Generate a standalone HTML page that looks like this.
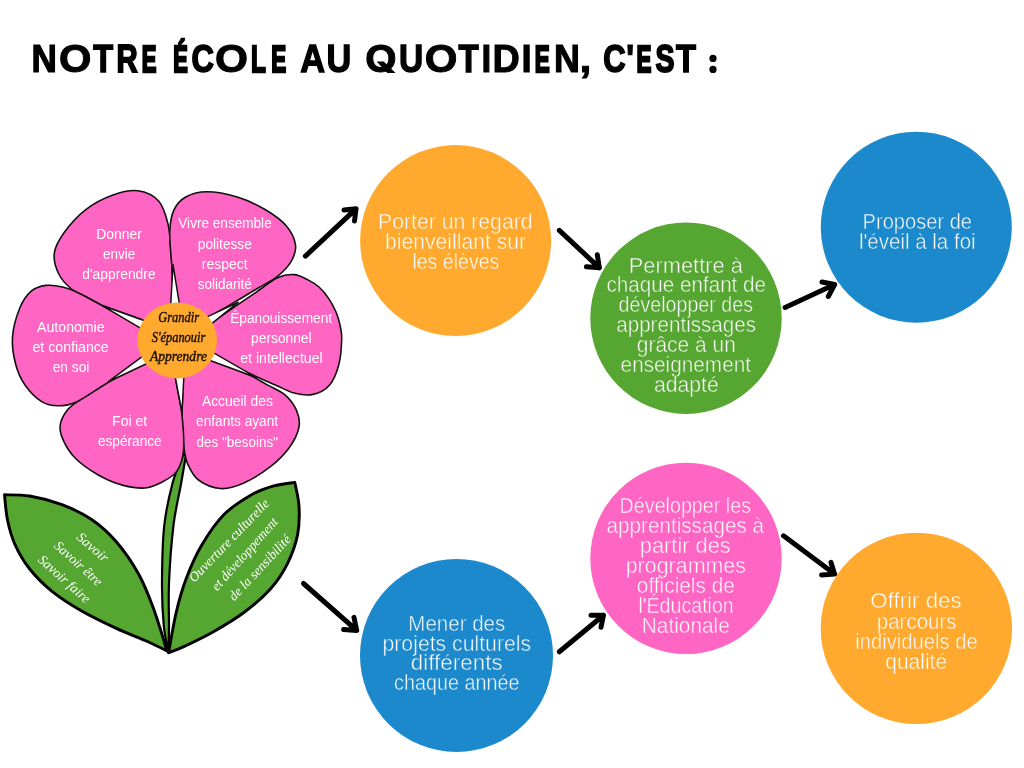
<!DOCTYPE html>
<html lang="fr"><head><meta charset="utf-8"><title>Notre école au quotidien</title>
<style>
html,body{margin:0;padding:0;background:#fff;}
body{width:1024px;height:768px;overflow:hidden;font-family:"Liberation Sans",sans-serif;}
svg{display:block;will-change:transform}
.t{font-family:"Liberation Sans",sans-serif;font-weight:bold;font-size:39px;fill:#000;stroke:#000;stroke-linejoin:miter}
.c{font-family:"Liberation Sans",sans-serif;font-size:22px;fill:#fff;stroke-width:.5px;paint-order:fill stroke}
.p{font-family:"Liberation Sans",sans-serif;font-size:13.8px;fill:#fff}
.m{font-family:"Liberation Serif",serif;font-style:italic;font-size:14.6px;fill:#1c1204;stroke:#1c1204;stroke-width:.45px}
.lf{font-family:"Liberation Serif",serif;font-style:italic;font-size:13.5px;fill:#fff}
.ar{fill:none;stroke:#000;stroke-width:5;stroke-linecap:round;stroke-linejoin:round}
.pt{fill:#FF66C4;stroke:#111;stroke-width:1.6;stroke-linejoin:round}
.lv{fill:#56A632;stroke:#000;stroke-width:2.9;stroke-linejoin:round}
</style></head><body>
<svg width="1024" height="768" viewBox="0 0 1024 768">
<rect width="1024" height="768" fill="#fff"/>

<g class="t">
<text transform="translate(31.40,72.07) scale(0.9010,0.9934)" stroke-width="1.17" vector-effect="non-scaling-stroke">N</text>
<text transform="translate(59.03,72.15) scale(1.0699,0.9996)" stroke-width="1.00" vector-effect="non-scaling-stroke">O</text>
<text transform="translate(93.36,71.97) scale(0.8359,0.9860)" stroke-width="1.37" vector-effect="non-scaling-stroke">T</text>
<text transform="translate(116.40,71.83) scale(0.7538,0.9762)" stroke-width="1.63" vector-effect="non-scaling-stroke">R</text>
<text transform="translate(141.66,71.56) scale(0.5636,0.9557)" stroke-width="2.18" vector-effect="non-scaling-stroke">E</text>
<text transform="translate(173.18,71.55) scale(0.5583,0.9552)" stroke-width="2.20" vector-effect="non-scaling-stroke">É</text>
<text transform="translate(191.41,71.90) scale(0.7964,0.9808)" stroke-width="1.51" vector-effect="non-scaling-stroke">C</text>
<text transform="translate(214.90,72.15) scale(1.0884,0.9996)" stroke-width="1.00" vector-effect="non-scaling-stroke">O</text>
<text transform="translate(251.01,71.66) scale(0.6237,0.9635)" stroke-width="1.97" vector-effect="non-scaling-stroke">L</text>
<text transform="translate(271.22,71.58) scale(0.5741,0.9569)" stroke-width="2.15" vector-effect="non-scaling-stroke">E</text>
<text transform="translate(300.26,72.03) scale(0.8823,0.9905)" stroke-width="1.25" vector-effect="non-scaling-stroke">A</text>
<text transform="translate(326.56,72.03) scale(0.8787,0.9907)" stroke-width="1.24" vector-effect="non-scaling-stroke">U</text>
<text transform="translate(365.14,72.15) scale(1.0312,0.9996)" stroke-width="1.00" vector-effect="non-scaling-stroke">O</text>
<text transform="translate(398.94,72.00) scale(0.8590,0.9885)" stroke-width="1.30" vector-effect="non-scaling-stroke">U</text>
<text transform="translate(424.72,72.15) scale(1.0773,0.9996)" stroke-width="1.00" vector-effect="non-scaling-stroke">O</text>
<text transform="translate(458.44,71.98) scale(0.8459,0.9871)" stroke-width="1.34" vector-effect="non-scaling-stroke">T</text>
<text transform="translate(481.51,72.15) scale(0.9019,0.9996)" stroke-width="1.00" vector-effect="non-scaling-stroke">I</text>
<text transform="translate(492.54,72.15) scale(0.9694,0.9996)" stroke-width="1.00" vector-effect="non-scaling-stroke">D</text>
<text transform="translate(521.52,72.15) scale(0.9372,0.9996)" stroke-width="1.00" vector-effect="non-scaling-stroke">I</text>
<text transform="translate(534.82,71.58) scale(0.5741,0.9569)" stroke-width="2.15" vector-effect="non-scaling-stroke">E</text>
<text transform="translate(554.02,72.10) scale(0.9210,0.9956)" stroke-width="1.11" vector-effect="non-scaling-stroke">N</text>
<text transform="translate(579.50,72.15) scale(1.0989,0.9996)" stroke-width="1.00" vector-effect="non-scaling-stroke">,</text>
<text transform="translate(603.32,71.89) scale(0.7942,0.9806)" stroke-width="1.51" vector-effect="non-scaling-stroke">C</text>
<text transform="translate(626.10,72.15) scale(0.8876,0.9996)" stroke-width="1.00" vector-effect="non-scaling-stroke">'</text>
<text transform="translate(636.52,71.58) scale(0.5741,0.9569)" stroke-width="2.15" vector-effect="non-scaling-stroke">E</text>
<text transform="translate(655.59,71.81) scale(0.7313,0.9741)" stroke-width="1.69" vector-effect="non-scaling-stroke">S</text>
<text transform="translate(675.95,71.97) scale(0.8384,0.9863)" stroke-width="1.36" vector-effect="non-scaling-stroke">T</text>
</g>
<path d="M376.6,61.4 L383.8,61.4 L395.6,72.9 L387.4,72.9 Z" fill="#000"/>
<circle cx="713" cy="58.4" r="3.6" fill="#000"/><circle cx="713" cy="69.4" r="3.6" fill="#000"/>
<path class="lv" style="stroke-width:2.2" d="M183.0,455.0 C181.3,459.7 175.7,471.2 172.6,483.0 C169.5,494.8 166.0,509.3 164.2,526.0 C162.4,542.7 162.1,566.3 162.0,583.0 C161.9,599.7 162.7,614.4 163.8,626.0 C164.9,637.6 167.8,648.2 168.6,652.7 C168.7,648.2 168.9,637.6 169.0,626.0 C169.1,614.4 168.3,599.7 169.0,583.0 C169.7,566.3 171.4,542.7 173.4,526.0 C175.4,509.3 179.1,494.8 181.2,483.0 C183.3,471.2 185.2,459.7 186.0,455.0Z"/>
<path class="lv" d="M4.5,494.8 C8.7,495.0 20.1,494.4 29.7,496.0 C39.3,497.6 51.6,500.8 61.9,504.7 C72.2,508.6 82.5,513.3 91.6,519.5 C100.7,525.7 108.5,532.7 116.3,541.8 C124.1,550.9 132.4,562.9 138.6,574.0 C144.8,585.1 148.8,595.8 153.5,608.6 C158.2,621.4 164.8,643.9 167.0,651.0 C163.9,649.5 156.9,645.8 148.5,642.0 C140.1,638.2 127.4,633.6 116.3,628.4 C105.2,623.2 92.4,617.2 81.7,611.0 C71.0,604.8 60.7,598.3 52.0,591.3 C43.3,584.3 35.9,576.8 29.7,569.0 C23.5,561.2 18.6,552.5 14.9,544.3 C11.2,536.0 9.1,527.8 7.4,519.5 C5.7,511.2 5.0,498.9 4.5,494.8Z"/>
<path class="lv" d="M168.6,652.7 C169.9,645.9 173.3,624.5 176.3,612.0 C179.3,599.5 182.4,588.6 186.6,577.6 C190.8,566.6 195.0,556.5 201.2,546.0 C207.4,535.5 215.5,523.1 224.0,514.5 C232.5,505.9 243.7,499.3 252.0,494.5 C260.3,489.7 266.7,487.9 273.8,485.9 C280.9,483.9 291.3,483.0 294.8,482.4 C295.5,486.3 298.5,497.3 299.0,506.0 C299.5,514.7 299.5,525.1 297.6,534.6 C295.7,544.1 292.1,554.2 287.6,563.3 C283.1,572.4 277.6,580.9 270.4,589.0 C263.2,597.1 254.2,604.8 244.6,612.0 C235.0,619.2 223.0,626.3 213.0,632.0 C203.0,637.7 191.8,642.9 184.4,646.4 C177.0,649.9 171.2,651.7 168.6,652.7Z"/>
<path class="pt" d="M173.3,303.3 C173.1,299.1 172.6,286.6 172.3,278.3 C171.9,270.0 172.0,262.4 171.2,253.3 C170.5,244.2 170.1,232.7 168.0,224.0 C165.9,215.3 163.8,206.8 158.8,201.2 C153.8,195.7 145.6,191.8 138.0,190.8 C130.4,189.8 121.7,191.9 113.0,195.0 C104.3,198.1 94.0,203.3 85.8,209.6 C77.6,215.9 69.2,225.5 64.0,232.8 C58.8,240.1 55.2,246.4 54.3,253.3 C53.4,260.2 55.9,268.1 58.8,274.0 C61.6,279.9 66.6,284.9 71.2,288.8 C75.9,292.6 81.7,294.3 86.9,297.1 C92.1,299.8 96.8,302.9 102.5,305.4 C108.2,307.9 115.0,309.9 121.2,312.2 C127.5,314.5 136.9,317.9 140.0,319.0 L177.0,340.5 Z"/>
<path class="pt" d="M210.4,316.5 C213.0,314.9 220.9,310.2 226.2,307.1 C231.5,304.0 236.4,301.0 242.0,297.7 C247.6,294.4 253.7,290.7 259.6,287.1 C265.5,283.6 271.9,280.9 277.2,276.6 C282.5,272.3 288.1,266.7 291.2,261.4 C294.2,256.1 296.3,250.9 295.5,245.0 C294.7,239.1 291.6,232.1 286.6,226.2 C281.6,220.3 273.7,214.7 265.5,209.8 C257.3,204.9 247.1,200.0 237.3,197.0 C227.5,194.0 215.5,191.8 206.9,191.8 C198.3,191.8 191.3,194.0 185.8,197.0 C180.3,200.0 176.7,204.1 174.0,209.8 C171.3,215.5 170.2,222.0 169.8,231.0 C169.4,240.0 170.9,255.1 171.7,263.7 C172.5,272.3 173.7,276.2 174.6,282.4 C175.6,288.7 177.1,298.1 177.6,301.2 L177.0,340.5 Z"/>
<path class="pt" d="M213.0,321.5 C216.6,319.1 227.3,311.8 234.5,306.9 C241.7,302.0 248.8,297.2 256.0,292.3 C263.2,287.4 271.2,280.6 277.5,277.7 C283.8,274.8 289.0,274.3 294.0,274.6 C299.0,274.9 303.3,277.5 307.5,279.6 C311.7,281.7 315.5,283.9 319.0,287.0 C322.5,290.1 325.8,294.2 328.6,298.4 C331.4,302.6 334.1,307.6 336.0,312.0 C337.9,316.4 339.1,320.5 340.0,325.0 C340.9,329.5 341.9,332.5 341.7,339.0 C341.5,345.5 341.0,356.3 339.0,364.0 C337.0,371.7 333.9,379.9 329.6,385.0 C325.3,390.1 318.9,393.1 313.0,394.4 C307.1,395.7 300.1,394.5 294.0,393.0 C287.9,391.5 282.2,387.9 276.4,385.4 C270.5,382.8 265.5,380.7 258.8,377.7 C252.0,374.7 243.5,370.8 235.9,367.4 C228.2,363.9 216.8,358.7 213.0,357.0 L177.0,340.5 Z"/>
<path class="pt" d="M183.0,378.0 C182.9,381.4 182.7,391.7 182.5,398.5 C182.3,405.3 181.8,410.8 182.0,419.0 C182.2,427.2 183.0,440.4 184.0,448.0 C185.0,455.6 185.6,459.3 188.0,464.6 C190.4,469.9 193.1,476.0 198.5,480.0 C203.9,484.0 212.9,487.9 220.4,488.5 C227.9,489.1 235.0,486.9 243.3,483.3 C251.6,479.7 262.8,472.6 270.4,466.7 C278.0,460.8 284.2,454.6 289.0,448.0 C293.8,441.4 297.8,433.3 299.0,427.0 C300.2,420.7 298.8,415.8 296.5,410.4 C294.2,405.0 289.9,399.1 285.0,394.8 C280.1,390.6 273.2,388.2 267.3,384.9 C261.4,381.6 255.5,377.9 249.6,375.0 C243.7,372.1 237.7,370.1 231.8,367.7 C225.9,365.3 217.0,361.6 214.0,360.4 L177.0,340.5 Z"/>
<path class="pt" d="M175.4,378.0 C175.9,380.9 177.5,389.5 178.6,395.2 C179.6,401.0 180.8,404.4 181.7,412.5 C182.6,420.6 183.8,435.8 183.8,443.8 C183.8,451.7 183.4,455.2 181.7,460.4 C180.0,465.6 178.9,470.5 173.3,475.0 C167.7,479.5 156.6,485.8 148.3,487.5 C140.0,489.2 131.6,487.5 123.3,485.4 C115.0,483.3 106.3,479.5 98.3,475.0 C90.3,470.5 81.3,464.2 75.4,458.3 C69.5,452.4 65.5,445.2 63.0,439.6 C60.5,434.1 59.5,429.9 60.2,425.0 C60.9,420.1 63.8,414.6 67.0,410.4 C70.2,406.2 75.1,403.3 79.6,400.0 C84.1,396.7 89.3,393.8 94.2,390.6 C99.0,387.5 103.7,384.2 108.8,381.2 C113.8,378.3 119.2,375.7 124.4,372.9 C129.6,370.2 137.4,366.0 140.0,364.6 L177.0,340.5 Z"/>
<path class="pt" d="M139.6,325.6 C137.0,324.2 129.2,320.1 123.9,317.3 C118.7,314.5 115.8,313.0 108.3,309.0 C100.8,305.0 86.6,297.0 79.0,293.3 C71.4,289.6 68.0,288.3 62.5,287.0 C57.0,285.7 51.0,284.7 45.8,285.4 C40.6,286.1 35.6,287.5 31.2,291.2 C26.9,295.0 22.9,300.4 19.8,308.0 C16.7,315.6 13.2,327.7 12.5,337.0 C11.8,346.3 13.5,356.0 15.6,364.0 C17.7,372.0 20.6,378.7 25.0,385.0 C29.4,391.3 36.2,398.2 41.7,401.7 C47.2,405.2 52.4,405.8 58.3,405.8 C64.2,405.8 69.4,405.2 77.0,401.7 C84.6,398.2 96.5,389.5 104.0,385.0 C111.5,380.5 115.9,378.0 121.8,374.5 C127.7,371.0 136.6,365.8 139.6,364.0 L177.0,340.5 Z"/>
<path d="M179.8,306.3 L173.0,264.6 L170.6,306.8" fill="#fff" stroke="#111" stroke-width="1.5" stroke-linejoin="round"/>
<path d="M208.3,326.4 L238.1,302.3 L203.4,318.6" fill="#fff" stroke="#111" stroke-width="1.5" stroke-linejoin="round"/>
<path d="M205.9,359.0 L256.8,377.7 L209.8,350.7" fill="#fff" stroke="#111" stroke-width="1.5" stroke-linejoin="round"/>
<path d="M174.8,374.7 L182.0,412.3 L184.0,374.1" fill="#fff" stroke="#111" stroke-width="1.5" stroke-linejoin="round"/>
<path d="M145.5,354.1 L108.4,381.7 L150.2,362.0" fill="#fff" stroke="#111" stroke-width="1.5" stroke-linejoin="round"/>
<path d="M148.1,322.0 L102.7,305.8 L144.2,330.3" fill="#fff" stroke="#111" stroke-width="1.5" stroke-linejoin="round"/>
<ellipse cx="177.2" cy="340.4" rx="39.8" ry="38" fill="#FFA92F"/>
<circle cx="455.60" cy="240.55" r="95.50" fill="#FFA92F"/>
<circle cx="686.00" cy="318.20" r="95.70" fill="#56A632"/>
<circle cx="916.30" cy="227.20" r="95.50" fill="#1C89CC"/>
<circle cx="456.50" cy="655.45" r="96.50" fill="#1C89CC"/>
<circle cx="686.00" cy="558.40" r="95.70" fill="#FF66C4"/>
<circle cx="916.40" cy="628.40" r="95.70" fill="#FFA92F"/>
<path class="ar" d="M305.4,256.1 L356.0,208.8 M344.0,210.0 L356.0,208.8 L354.5,221.0"/>
<path class="ar" d="M559.3,230.3 L599.4,267.8 M597.3,254.8 L599.4,267.8 L586.4,266.8"/>
<path class="ar" d="M785.1,307.4 L834.6,284.5 M822.0,282.0 L834.6,284.5 L828.3,296.5"/>
<path class="ar" d="M303.5,583.5 L356.7,630.4 M354.0,617.4 L356.7,630.4 L343.6,629.4"/>
<path class="ar" d="M559.3,651.8 L603.5,615.3 M591.0,615.3 L603.5,615.3 L601.0,627.3"/>
<path class="ar" d="M783.5,535.8 L834.6,573.9 M831.0,562.4 L834.6,573.9 L821.6,574.9"/>
<g class="c" stroke="#FFA92F">
<text x="378.0" y="228.8" textLength="154.6" lengthAdjust="spacingAndGlyphs">Porter un regard</text>
<text x="385.0" y="248.7" textLength="141.0" lengthAdjust="spacingAndGlyphs">bienveillant sur</text>
<text x="412.4" y="268.7" textLength="87.0" lengthAdjust="spacingAndGlyphs">les élèves</text>
</g>
<g class="c" stroke="#56A632">
<text x="628.7" y="272.5" textLength="114.2" lengthAdjust="spacingAndGlyphs">Permettre à</text>
<text x="606.4" y="292.4" textLength="159.7" lengthAdjust="spacingAndGlyphs">chaque enfant de</text>
<text x="618.6" y="312.2" textLength="134.4" lengthAdjust="spacingAndGlyphs">développer des</text>
<text x="616.2" y="332.0" textLength="139.9" lengthAdjust="spacingAndGlyphs">apprentissages</text>
<text x="636.8" y="352.0" textLength="99.1" lengthAdjust="spacingAndGlyphs">grâce à un</text>
<text x="620.6" y="372.2" textLength="130.4" lengthAdjust="spacingAndGlyphs">enseignement</text>
<text x="653.9" y="392.0" textLength="64.8" lengthAdjust="spacingAndGlyphs">adapté</text>
</g>
<g class="c" stroke="#1C89CC">
<text x="862.6" y="228.6" textLength="109.4" lengthAdjust="spacingAndGlyphs">Proposer de</text>
<text x="858.9" y="248.6" textLength="116.7" lengthAdjust="spacingAndGlyphs">l'éveil à la foi</text>
</g>
<g class="c" stroke="#1C89CC">
<text x="408.3" y="630.5" textLength="97.0" lengthAdjust="spacingAndGlyphs">Mener des</text>
<text x="382.5" y="650.8" textLength="148.6" lengthAdjust="spacingAndGlyphs">projets culturels</text>
<text x="410.8" y="670.4" textLength="92.0" lengthAdjust="spacingAndGlyphs">différents</text>
<text x="394.1" y="690.3" textLength="125.3" lengthAdjust="spacingAndGlyphs">chaque année</text>
</g>
<g class="c" stroke="#FF66C4">
<text x="619.6" y="513.4" textLength="131.4" lengthAdjust="spacingAndGlyphs">Développer les</text>
<text x="606.5" y="533.4" textLength="157.6" lengthAdjust="spacingAndGlyphs">apprentissages à</text>
<text x="639.8" y="553.2" textLength="91.0" lengthAdjust="spacingAndGlyphs">partir des</text>
<text x="625.7" y="573.4" textLength="120.3" lengthAdjust="spacingAndGlyphs">programmes</text>
<text x="636.8" y="593.2" textLength="98.1" lengthAdjust="spacingAndGlyphs">officiels de</text>
<text x="638.4" y="613.4" textLength="95.4" lengthAdjust="spacingAndGlyphs">l'Éducation</text>
<text x="641.8" y="632.9" textLength="88.0" lengthAdjust="spacingAndGlyphs">Nationale</text>
</g>
<g class="c" stroke="#FFA92F">
<text x="870.3" y="608.4" textLength="91.4" lengthAdjust="spacingAndGlyphs">Offrir des</text>
<text x="876.8" y="628.9" textLength="79.8" lengthAdjust="spacingAndGlyphs">parcours</text>
<text x="855.2" y="648.7" textLength="122.6" lengthAdjust="spacingAndGlyphs">individuels de</text>
<text x="885.3" y="669.2" textLength="61.8" lengthAdjust="spacingAndGlyphs">qualité</text>
</g>
<g class="p">
<text x="96.3" y="238.8" textLength="45.6" lengthAdjust="spacingAndGlyphs">Donner</text>
<text x="103.1" y="258.5" textLength="32.1" lengthAdjust="spacingAndGlyphs">envie</text>
<text x="82.3" y="278.8" textLength="73.3" lengthAdjust="spacingAndGlyphs">d'apprendre</text>
<text x="178.3" y="227.9" textLength="93.4" lengthAdjust="spacingAndGlyphs">Vivre ensemble</text>
<text x="197.8" y="248.8" textLength="54.0" lengthAdjust="spacingAndGlyphs">politesse</text>
<text x="201.8" y="269.0" textLength="45.8" lengthAdjust="spacingAndGlyphs">respect</text>
<text x="197.8" y="289.2" textLength="54.0" lengthAdjust="spacingAndGlyphs">solidarité</text>
<text x="230.2" y="322.5" textLength="101.9" lengthAdjust="spacingAndGlyphs">Épanouissement</text>
<text x="251.1" y="342.7" textLength="60.5" lengthAdjust="spacingAndGlyphs">personnel</text>
<text x="240.2" y="363.1" textLength="82.5" lengthAdjust="spacingAndGlyphs">et intellectuel</text>
<text x="201.9" y="406.2" textLength="71.0" lengthAdjust="spacingAndGlyphs">Accueil des</text>
<text x="196.1" y="426.3" textLength="82.0" lengthAdjust="spacingAndGlyphs">enfants ayant</text>
<text x="196.6" y="446.5" textLength="81.5" lengthAdjust="spacingAndGlyphs">des &quot;besoins&quot;</text>
<text x="112.1" y="425.8" textLength="35.2" lengthAdjust="spacingAndGlyphs">Foi et</text>
<text x="97.9" y="446.2" textLength="63.8" lengthAdjust="spacingAndGlyphs">espérance</text>
<text x="37.1" y="331.9" textLength="67.5" lengthAdjust="spacingAndGlyphs">Autonomie</text>
<text x="32.5" y="352.0" textLength="76.2" lengthAdjust="spacingAndGlyphs">et confiance</text>
<text x="52.7" y="371.9" textLength="36.7" lengthAdjust="spacingAndGlyphs">en soi</text>
</g>
<g class="m">
<text x="158.2" y="322.0" textLength="40.8" lengthAdjust="spacingAndGlyphs">Grandir</text>
<text x="151.7" y="341.6" textLength="53.6" lengthAdjust="spacingAndGlyphs">S'épanouir</text>
<text x="150.1" y="361.0" textLength="56.8" lengthAdjust="spacingAndGlyphs">Apprendre</text>
</g>
<text class="lf" transform="translate(78.0,535.6) rotate(40.7)" dy="3.6" textLength="37.4" lengthAdjust="spacingAndGlyphs">Savoir</text>
<text class="lf" transform="translate(55.7,544.0) rotate(42.1)" dy="3.6" textLength="59.7" lengthAdjust="spacingAndGlyphs">Savoir être</text>
<text class="lf" transform="translate(39.6,558.0) rotate(41.7)" dy="3.6" textLength="64.7" lengthAdjust="spacingAndGlyphs">Savoir faire</text>
<text class="lf" transform="translate(191.6,580.5) rotate(-46.1)" dy="3.6" textLength="109.5" lengthAdjust="spacingAndGlyphs">Ouverture culturelle</text>
<text class="lf" transform="translate(214.5,589.0) rotate(-48.3)" dy="3.6" textLength="92.4" lengthAdjust="spacingAndGlyphs">et développement</text>
<text class="lf" transform="translate(231.7,599.0) rotate(-47.0)" dy="3.6" textLength="84.1" lengthAdjust="spacingAndGlyphs">de la sensibilité</text>
</svg></body></html>
